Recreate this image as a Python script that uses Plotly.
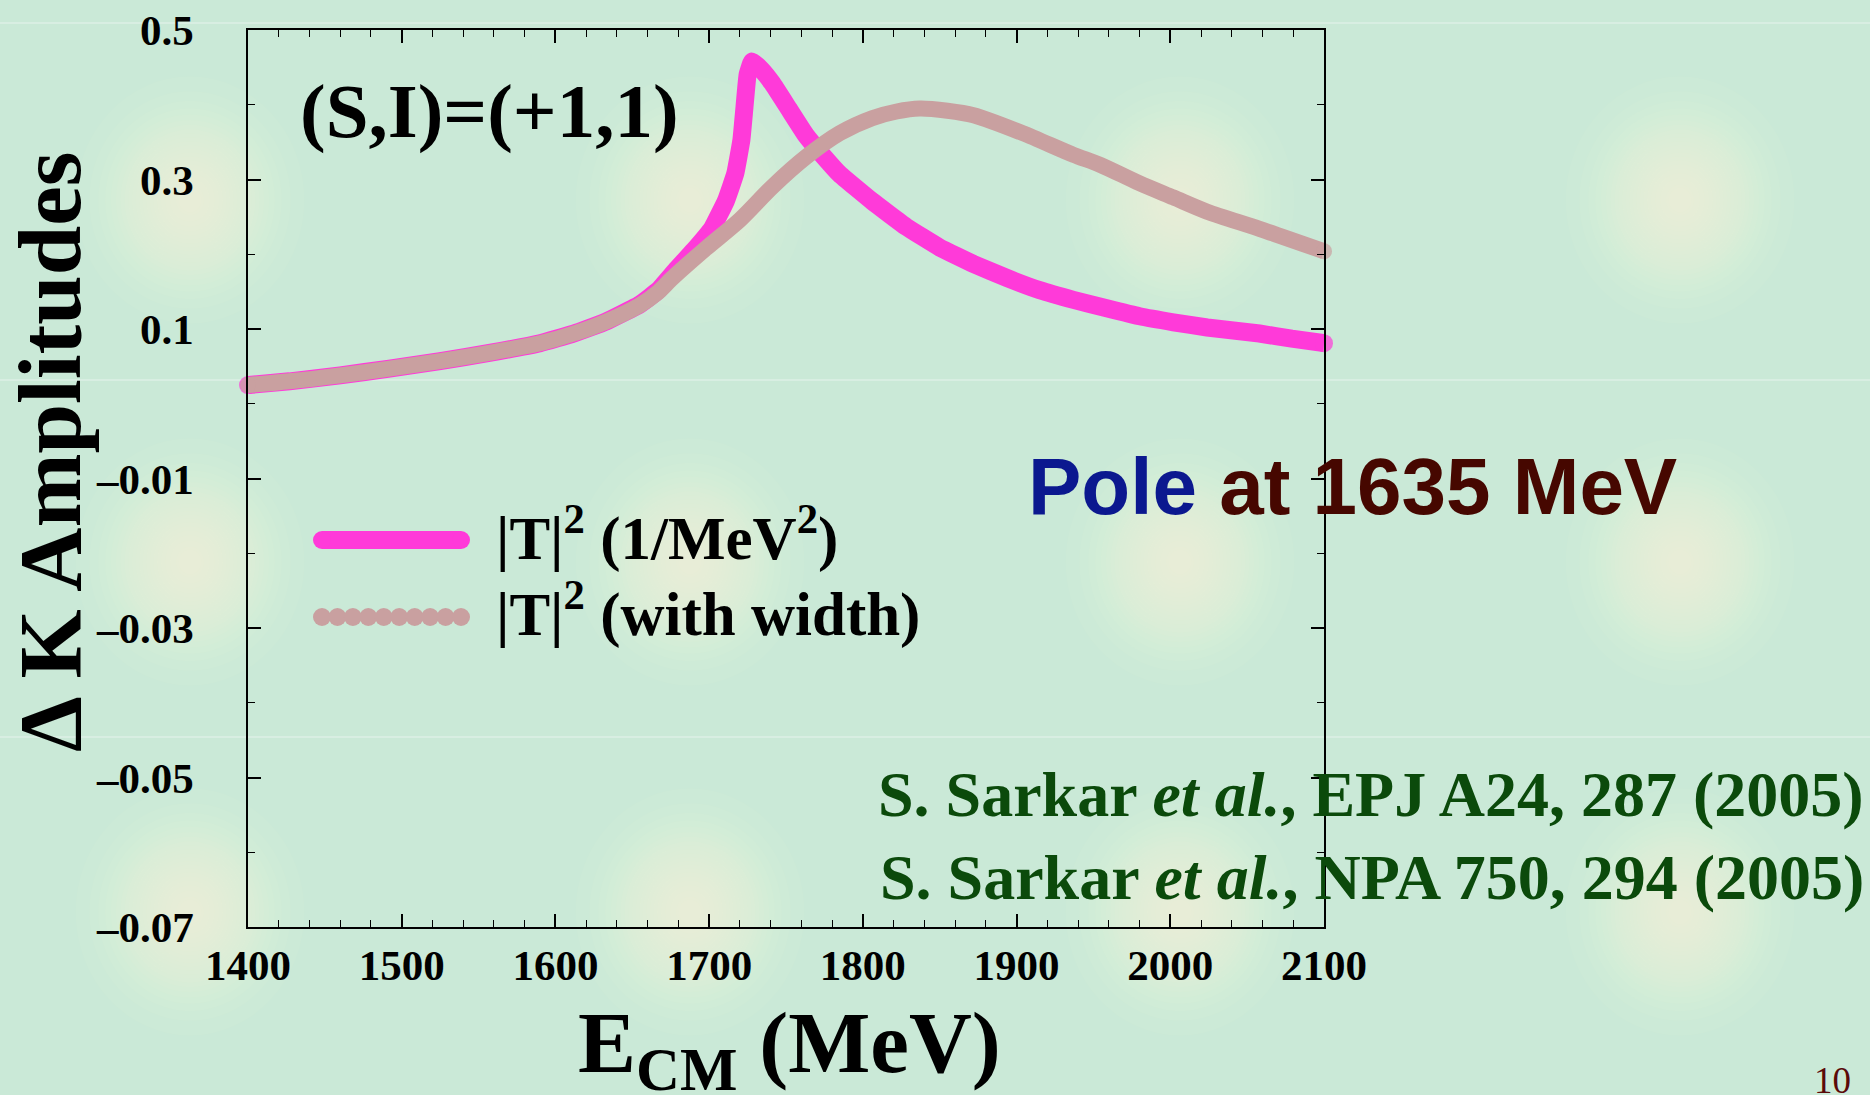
import math
import plotly.graph_objects as go

# ---------------- data ----------------
energy_pink = [1400, 1427, 1460, 1492, 1525, 1557, 1590, 1612, 1633, 1655, 1667, 1678, 1690, 1702,
               1711, 1717, 1721, 1723, 1725, 1728, 1734, 1741, 1752, 1763, 1774, 1785, 1806, 1828,
               1850, 1872, 1894, 1915, 1937, 1958, 1980, 2002, 2024, 2041, 2058, 2079, 2100]
amp_pink = [0.025, 0.030, 0.038, 0.047, 0.057, 0.068, 0.081, 0.094, 0.110, 0.133, 0.152, 0.178, 0.205, 0.235,
            0.272, 0.308, 0.353, 0.397, 0.440, 0.458, 0.447, 0.429, 0.394, 0.359, 0.332, 0.307, 0.271, 0.237,
            0.209, 0.187, 0.168, 0.152, 0.139, 0.128, 0.117, 0.109, 0.102, 0.098, 0.094, 0.087, 0.081]

energy_tan = [1400, 1427, 1460, 1492, 1525, 1557, 1590, 1612, 1633, 1655, 1666, 1676, 1698, 1720, 1741,
              1763, 1785, 1806, 1822, 1837, 1855, 1872, 1904, 1937, 1954, 1980, 2002, 2024, 2058, 2100]
amp_tan = [0.025, 0.030, 0.038, 0.047, 0.057, 0.068, 0.081, 0.094, 0.110, 0.132, 0.148, 0.168, 0.208, 0.246, 0.290,
           0.330, 0.362, 0.382, 0.391, 0.395, 0.392, 0.386, 0.362, 0.333, 0.320, 0.295, 0.276, 0.257, 0.234, 0.204]

y_tickvals = [0.5, 0.3, 0.1, -0.1, -0.3, -0.5, -0.7]
y_ticktext = ["0.5", "0.3", "0.1", "\u20130.01", "\u20130.03", "\u20130.05", "\u20130.07"]

series_names = ["|T|<sup>2</sup> (1/MeV<sup>2</sup>)", "|T|<sup>2</sup> (with width)"]
panel_label = "(S,I)=(+1,1)"
pole_label = "<span style='color:#0b188f'>Pole</span> at 1635 MeV"
refs = ["S. Sarkar <i>et al.</i>, EPJ A24, 287 (2005)",
        "S. Sarkar <i>et al.</i>, NPA 750, 294 (2005)"]

# ---------------- style ----------------
W_FIG, H_FIG = 1870, 1095
L, R, T, B = 248, 1324, 30, 927
PW, PH = R - L, B - T
BG = "#cae9d7"
PINK = "#ff3ad9"
TAN = "#c9a0a0"
SERIF = "Liberation Serif, Times New Roman, serif"
SANS = "Liberation Sans, Arial, sans-serif"


def px(x):
    return (x - L) / PW


def py(y):
    return (B - y) / PH


fig = go.Figure()


def end_sizes(n, s):
    return [s if i in (0, n - 1) else 0 for i in range(n)]


fig.add_trace(go.Scatter(x=energy_pink, y=amp_pink, mode="lines+markers",
                         line=dict(color=PINK, width=18, shape="spline", smoothing=0.3),
                         marker=dict(size=end_sizes(len(energy_pink), 18), color=PINK, line=dict(width=0)),
                         cliponaxis=False, showlegend=False))
fig.add_trace(go.Scatter(x=energy_tan, y=amp_tan, mode="lines+markers",
                         line=dict(color=TAN, width=16, shape="spline", smoothing=0.8),
                         marker=dict(size=end_sizes(len(energy_tan), 16), color=TAN, line=dict(width=0)),
                         cliponaxis=False, showlegend=False))

shapes = []
# background glows (soft radial highlight built from stacked translucent ellipses)
NG, SIG = 22, 46.0
for gx in [190, 690, 1180, 1680]:
    for gy in [200, 562, 912]:
        for k in range(1, NG + 1):
            r = SIG * math.sqrt(2 * math.log(NG / k)) if k < NG else SIG * 0.25
            rx, ry = r, r * 1.08
            shapes.append(dict(type="circle", xref="paper", yref="paper",
                               x0=px(gx - rx), x1=px(gx + rx), y0=py(gy + ry), y1=py(gy - ry),
                               fillcolor="#f6fdd9", opacity=0.05, line=dict(width=0), layer="below"))
# faint horizontal band lines
for hy in [23, 380, 737]:
    shapes.append(dict(type="line", xref="paper", yref="paper", x0=px(0), x1=px(W_FIG),
                       y0=py(hy), y1=py(hy), line=dict(color="#d8eee2", width=2), layer="below"))

# legend swatches
sw_x0, sw_x1 = 322, 461
ly1, ly2 = 540, 617
shapes.append(dict(type="line", xref="paper", yref="paper", x0=px(sw_x0), x1=px(sw_x1),
                   y0=py(ly1), y1=py(ly1), line=dict(color=PINK, width=18)))
for cx in (sw_x0, sw_x1):
    shapes.append(dict(type="circle", xref="paper", yref="paper", x0=px(cx - 9), x1=px(cx + 9),
                       y0=py(ly1 + 9), y1=py(ly1 - 9), fillcolor=PINK, line=dict(width=0)))
for i in range(10):
    cx = sw_x0 + i * (sw_x1 - sw_x0) / 9
    shapes.append(dict(type="circle", xref="paper", yref="paper", x0=px(cx - 9), x1=px(cx + 9),
                       y0=py(ly2 + 9), y1=py(ly2 - 9), fillcolor=TAN, line=dict(width=0)))

annotations = []


def ann(text, x, y, size, color="black", family=SERIF, weight="bold", xanchor="center", yanchor="middle",
        angle=0):
    annotations.append(dict(text=text, x=px(x), y=py(y), xref="paper", yref="paper", showarrow=False,
                            xanchor=xanchor, yanchor=yanchor, textangle=angle,
                            font=dict(size=size, color=color, family=family, weight=weight)))


LFS = 61
ann(panel_label, 489, 111, 77)
ann(series_names[0], 494, 561 + 0.216 * LFS + 1, LFS, xanchor="left", yanchor="bottom")
ann(series_names[1], 494, 637 + 0.216 * LFS + 1, LFS, xanchor="left", yanchor="bottom")
ann(pole_label, 1026, 486, 80, color="#460700", family=SANS, xanchor="left")
ann(refs[0], 1866, 794, 64, color="#0b4a0b", xanchor="right")
ann(refs[1], 1866, 877, 64, color="#0b4a0b", xanchor="right")
ann("10", 1853, 1080, 37, color="#5a0a0a", weight="normal", xanchor="right")
ann("\u0394\u2009K Amplitudes", 50, 452, 89, angle=-90)
ann("E<sub>CM</sub> (MeV)", 576, 1071 - 0.891 * 87 - 1, 87, xanchor="left", yanchor="top")

fig.update_layout(
    width=W_FIG, height=H_FIG,
    margin=dict(l=L, r=W_FIG - R, t=T, b=H_FIG - B, autoexpand=False),
    paper_bgcolor=BG, plot_bgcolor="rgba(0,0,0,0)",
    shapes=shapes, annotations=annotations, showlegend=False,
)
axis_common = dict(showgrid=False, zeroline=False, showline=True, linecolor="black", linewidth=1.5,
                   mirror="allticks", ticks="inside", tickcolor="black", tickwidth=1.5, ticklen=13,
                   tickfont=dict(family=SERIF, size=43, color="black", weight="bold"))
fig.update_xaxes(range=[1400, 2100], tickmode="linear", tick0=1400, dtick=100, ticklabelstandoff=0,
                 minor=dict(tickmode="linear", dtick=20, tick0=1400, ticks="inside", ticklen=7,
                            tickcolor="black", tickwidth=1.2),
                 **axis_common)
fig.update_yaxes(range=[-0.7, 0.5], tickmode="array", tickvals=y_tickvals, ticktext=y_ticktext,
                 ticklabelstandoff=44,
                 minor=dict(tickmode="linear", dtick=0.1, tick0=-0.7, ticks="inside", ticklen=7,
                            tickcolor="black", tickwidth=1.2),
                 **axis_common)

fig.write_html("out.html", config={"displayModeBar": False},
               post_script="document.body.style.margin='0px';")
